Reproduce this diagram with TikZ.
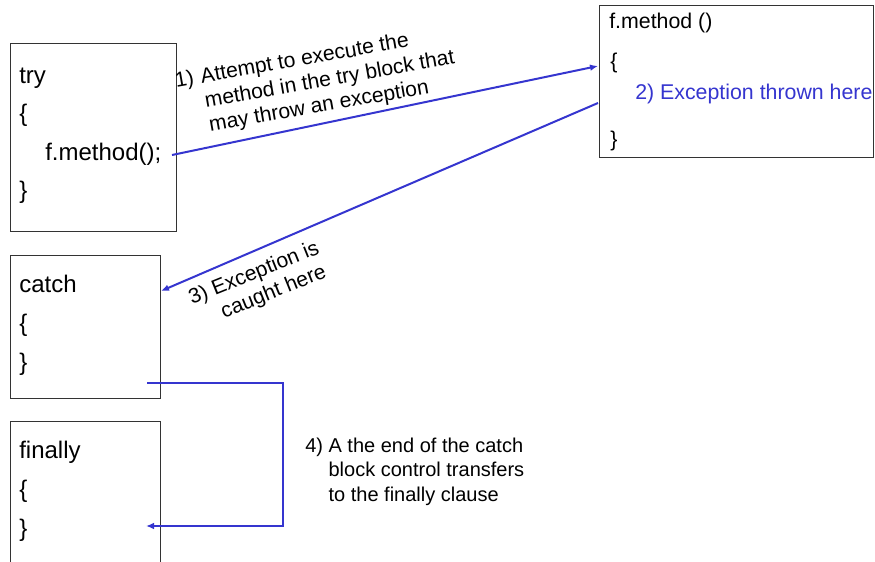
\documentclass[tikz,border=0pt]{standalone}
\usepackage{fontspec}
\setmainfont{Liberation Sans}
\usepackage{xcolor}
\usetikzlibrary{arrows.meta}

\definecolor{flowBlue}{HTML}{3535CF}
\definecolor{frameGray}{HTML}{333333}

\tikzset{
  block/.style = {rectangle, draw=frameGray, line width=0.9pt,
                  anchor=north west, inner sep=0pt},
  code/.style  = {anchor=base west, inner sep=0pt,
                  font=\fontsize{18}{22}\selectfont},
  mcode/.style = {anchor=base west, inner sep=0pt,
                  font=\fontsize{16}{19}\selectfont},
  note/.style  = {anchor=base west, inner sep=0pt,
                  font=\fontsize{15.8}{18.4}\selectfont},
  flow/.style  = {-{Latex[length=6pt,width=5pt]}, line width=1.5pt,
                  draw=flowBlue}
}

\begin{document}
\begin{tikzpicture}[x=0.75pt, y=-0.75pt]
\useasboundingbox (0,0) rectangle (875,561);

% the four blocks
\node[block, minimum width=124.5pt, minimum height=141pt]   (tryBox)     at (10,43)  {};
\node[block, minimum width=112.5pt, minimum height=107.25pt] (catchBox)  at (10,255) {};
\node[block, minimum width=112.5pt, minimum height=120pt]   (finallyBox) at (10,421) {};
\node[block, minimum width=205.5pt, minimum height=114pt]   (methodBox)  at (599,5)  {};

% try
\node[code] (tryKw)    at (19,83)  {try};
\node[code] (tryOpen)  at (19,121) {\{};
\node[code] (tryCall)  at (45,160) {f.method();};
\node[code] (tryClose) at (19,198) {\}};

% catch
\node[code] (catchKw)    at (19,292) {catch};
\node[code] (catchOpen)  at (19,331) {\{};
\node[code] (catchClose) at (19,370) {\}};

% finally
\node[code] (finallyKw)    at (19,458) {finally};
\node[code] (finallyOpen)  at (19,497) {\{};
\node[code] (finallyClose) at (19,536) {\}};

% called method
\node[mcode] (methodHead)  at (609,28)  {f.method ()};
\node[mcode] (methodOpen)  at (610,68)  {\{};
\node[mcode, text=flowBlue] (methodThrow) at (635,99) {2) Exception thrown here};
\node[mcode] (methodClose) at (610,146) {\}};

% notes along the flow
\node[note, rotate=10] (attemptNote) at (176,88) {%
  \begin{tabular}[t]{@{}l@{\hspace{0.35em}}l@{}}
    1) & Attempt to execute the\\
       & method in the try block that\\
       & may throw an exception
  \end{tabular}};
\node[note, rotate=22] (caughtNote) at (192,305) {%
  \begin{tabular}[t]{@{}l@{\ }l@{}}
    3) & Exception is\\
       & caught here
  \end{tabular}};
\node[note, font=\fontsize{15}{18.4}\selectfont] (finallyNote) at (305,452) {%
  \begin{tabular}[t]{@{}l@{\ }l@{}}
    4) & A the end of the catch\\
       & block control transfers\\
       & to the finally clause
  \end{tabular}};

% arrow ends
\coordinate (callEnd)   at (172,155);
\coordinate (throwIn)   at (598,66);
\coordinate (throwOut)  at (598,103);
\coordinate (catchIn)   at (161,291);
\coordinate (catchEnd)  at (147,383);
\coordinate (bendTop)   at (283,383);
\coordinate (bendBot)   at (283,526);
\coordinate (finallyIn) at (146,526);

\draw[flow] (callEnd) -- (throwIn);
\draw[flow] (throwOut) -- (catchIn);
\draw[flow] (catchEnd) -- (bendTop) -- (bendBot) -- (finallyIn);
\end{tikzpicture}
\end{document}
